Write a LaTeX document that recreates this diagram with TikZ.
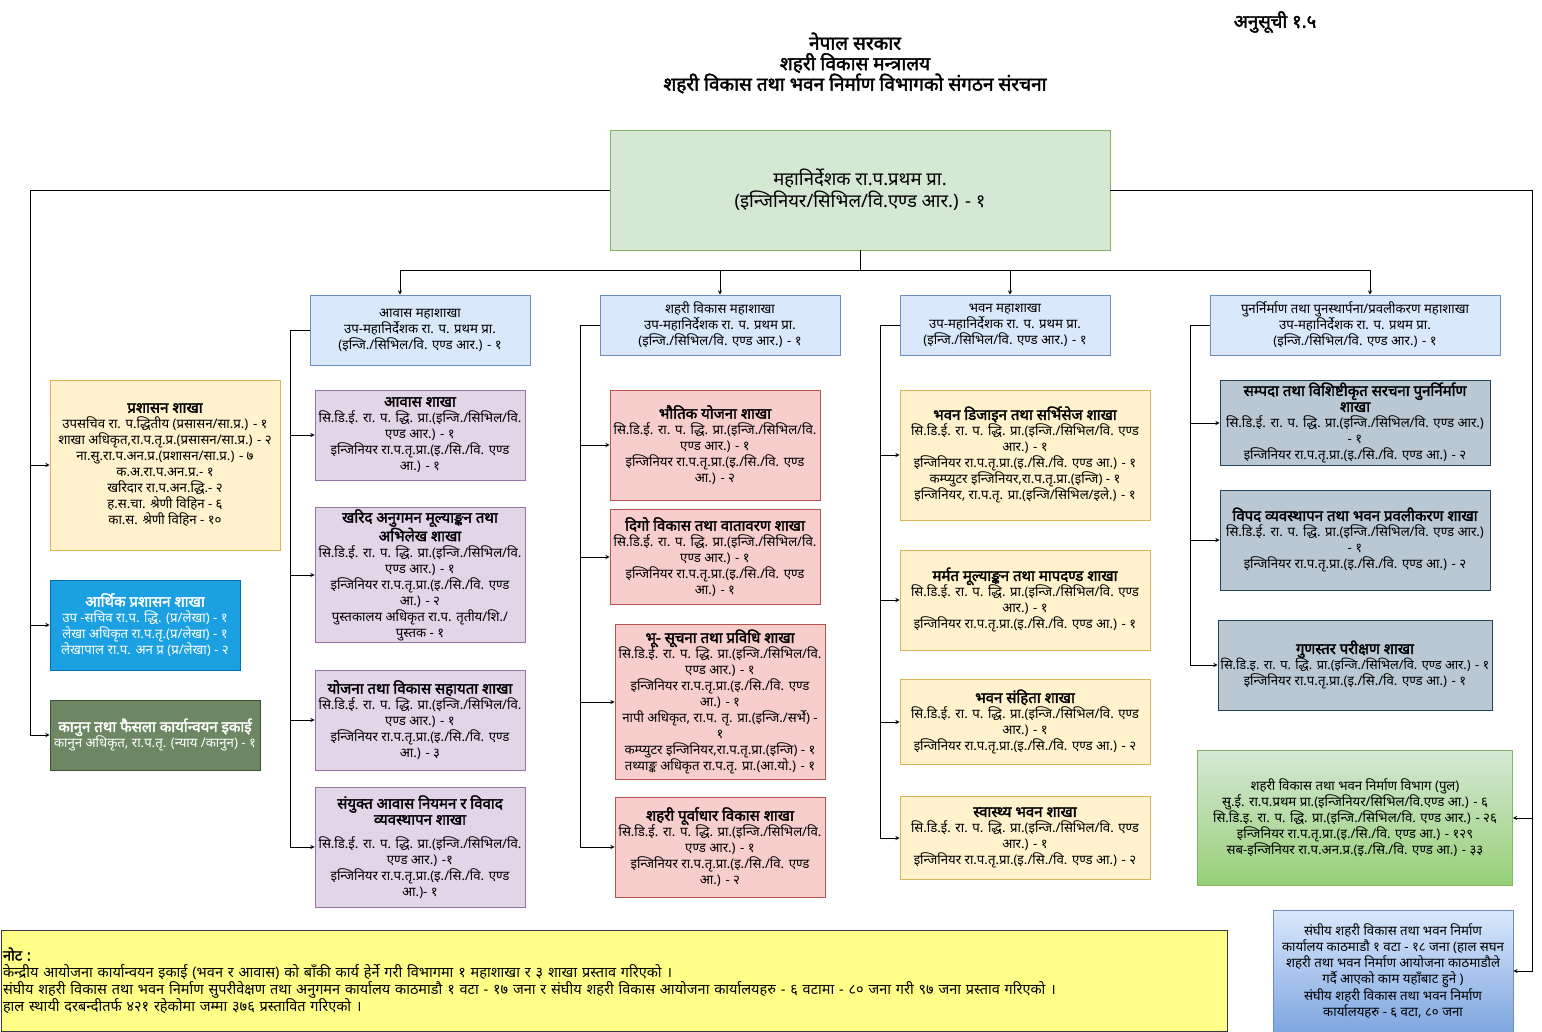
\documentclass[tikz,border=0pt]{standalone}
\usepackage{fontspec}
\setmainfont{Noto Sans}[Script=Devanagari, AutoFakeBold=2.2]

\definecolor{dgfill}{HTML}{D5E8D4}
\definecolor{dgline}{HTML}{82B366}
\definecolor{msfill}{HTML}{DAE8FC}
\definecolor{msline}{HTML}{6C8EBF}
\definecolor{purfill}{HTML}{E1D5E7}
\definecolor{purline}{HTML}{9673A6}
\definecolor{redfill}{HTML}{F8CECC}
\definecolor{redline}{HTML}{B85450}
\definecolor{yelfill}{HTML}{FFF2CC}
\definecolor{yelline}{HTML}{D6B656}
\definecolor{grayfill}{HTML}{BAC8D3}
\definecolor{grayline}{HTML}{23445D}
\definecolor{cyanfill}{HTML}{1BA1E2}
\definecolor{cyanline}{HTML}{006EAF}
\definecolor{olivefill}{HTML}{6D8764}
\definecolor{oliveline}{HTML}{3A5431}
\definecolor{poolbot}{HTML}{97D077}
\definecolor{fedbot}{HTML}{7EA6E0}
\definecolor{notefill}{HTML}{FFFF88}
\definecolor{noteline}{HTML}{36393D}

\newcommand\boxfont{\fontsize{13.2}{16}\selectfont}
\newcommand\head[1]{{\fontsize{15}{16}\selectfont\bfseries #1}}
\newcommand\sdi{सि.डि.ई. रा. प. द्धि. प्रा.(इन्जि./सिभिल/वि.}
\newcommand\engr{इन्जिनियर रा.प.तृ.प्रा.(इ./सि./वि. एण्ड}

\begin{document}
\begin{tikzpicture}[x=1pt, y=-1pt, >=stealth, line width=0.9pt,
  box/.style={draw, line width=0.8pt, align=center, inner sep=2pt, font=\boxfont},
  mahashakha/.style={box, draw=msline, fill=msfill},
  awasbox/.style={box, draw=purline, fill=purfill},
  shaharibox/.style={box, draw=redline, fill=redfill},
  bhawanbox/.style={box, draw=yelline, fill=yelfill},
  punabox/.style={box, draw=grayline, fill=grayfill}]
  \useasboundingbox (0,0) rectangle (1542,1031);

  % Title
  \node[font=\fontsize{18.5}{20}\selectfont\bfseries] (annex) at (1275,22) {अनुसूची १.५};
  \node[font=\fontsize{19}{20.5}\selectfont\bfseries, align=center] (title) at (855,63)
    {नेपाल सरकार\\शहरी  विकास मन्त्रालय\\शहरी विकास तथा भवन निर्माण विभागको संगठन संरचना};

  % Director general
  \node[box, draw=dgline, fill=dgfill, minimum width=500, minimum height=120,
    font=\fontsize{18.5}{22}\selectfont] (dg) at (860,190)
    {महानिर्देशक रा.प.प्रथम प्रा.\\(इन्जिनियर/सिभिल/वि.एण्ड आर.) - १};

  % Divisions
  \node[mahashakha, minimum width=220, minimum height=70] (awasms) at (420,330)
    {आवास महाशाखा\\उप-महानिर्देशक रा. प. प्रथम प्रा.\\(इन्जि./सिभिल/वि. एण्ड आर.) - १};
  \node[mahashakha, minimum width=240, minimum height=60] (shaharims) at (720,325)
    {शहरी विकास महाशाखा\\उप-महानिर्देशक रा. प. प्रथम प्रा.\\(इन्जि./सिभिल/वि. एण्ड आर.) - १};
  \node[mahashakha, minimum width=210, minimum height=60] (bhawanms) at (1005,325)
    {भवन महाशाखा\\उप-महानिर्देशक रा. प. प्रथम प्रा.\\(इन्जि./सिभिल/वि. एण्ड आर.) - १};
  \node[mahashakha, minimum width=290, minimum height=60] (punams) at (1355,325)
    {पुनर्निर्माण तथा पुनस्थार्पना/प्रवलीकरण महाशाखा\\उप-महानिर्देशक रा. प. प्रथम प्रा.\\(इन्जि./सिभिल/वि. एण्ड आर.) - १};

  % Sections under the director general
  \node[box, draw=yelline, fill=yelfill, minimum width=230, minimum height=170] (prashasan) at (165,465)
    {\head{प्रशासन शाखा}\\उपसचिव रा. प.द्धितीय (प्रसासन/सा.प्र.) - १\\शाखा अधिकृत,रा.प.तृ.प्र.(प्रसासन/सा.प्र.) - २\\ना.सु.रा.प.अन.प्र.(प्रशासन/सा.प्र.) - ७\\क.अ.रा.प.अन.प्र.- १\\खरिदार रा.प.अन.द्धि.- २\\ह.स.चा. श्रेणी विहिन - ६\\का.स. श्रेणी विहिन - १०};
  \node[box, draw=cyanline, fill=cyanfill, text=white, minimum width=190, minimum height=90] (arthik) at (145,625)
    {\head{आर्थिक प्रशासन शाखा}\\उप -सचिव रा.प. द्धि. (प्र/लेखा) -  १\\लेखा अधिकृत रा.प.तृ.(प्र/लेखा)   - १\\लेखापाल रा.प. अन प्र (प्र/लेखा)   - २};
  \node[box, draw=oliveline, fill=olivefill, text=white, minimum width=210, minimum height=70] (kanoon) at (155,735)
    {\head{कानुन तथा फैसला कार्यान्वयन इकाई}\\कानुन अधिकृत, रा.प.तृ. (न्याय /कानुन)  - १};

  % Awas sections
  \node[awasbox, minimum width=210, minimum height=90] (awas1) at (420,435)
    {\head{आवास शाखा}\\\sdi\\एण्ड आर.) - १\\\engr\\आ.) - १};
  \node[awasbox, minimum width=210, minimum height=130] (awas2) at (420,575)
    {\head{खरिद अनुगमन मूल्याङ्कन तथा}\\\head{अभिलेख शाखा}\\\sdi\\एण्ड आर.) - १\\\engr\\आ.) - २\\पुस्तकालय अधिकृत रा.प. तृतीय/शि./\\पुस्तक - १};
  \node[awasbox, minimum width=210, minimum height=100] (awas3) at (420,720)
    {\head{योजना तथा विकास सहायता शाखा}\\\sdi\\एण्ड आर.) - १\\\engr\\आ.) - ३};
  \node[awasbox, minimum width=210, minimum height=120] (awas4) at (420,847)
    {\head{संयुक्त आवास नियमन र विवाद}\\\head{व्यवस्थापन शाखा}\\[8pt]\sdi\\एण्ड आर.) -१\\\engr\\आ.)- १};

  % Shahari bikas sections
  \node[shaharibox, minimum width=210, minimum height=110] (shahari1) at (715,445)
    {\head{भौतिक योजना शाखा}\\\sdi\\एण्ड आर.) - १\\\engr\\आ.) - २};
  \node[shaharibox, minimum width=210, minimum height=95] (shahari2) at (715,557)
    {\head{दिगो विकास तथा वातावरण शाखा}\\\sdi\\एण्ड आर.) - १\\\engr\\आ.) - १};
  \node[shaharibox, minimum width=210, minimum height=155] (shahari3) at (720,702)
    {\head{भू- सूचना तथा प्रविधि शाखा}\\\sdi\\एण्ड आर.) - १\\\engr\\आ.) - १\\नापी अधिकृत, रा.प. तृ. प्रा.(इन्जि./सर्भे) -\\१\\कम्प्युटर इन्जिनियर,रा.प.तृ.प्रा.(इन्जि) - १\\तथ्याङ्क अधिकृत रा.प.तृ. प्रा.(आ.यो.) - १};
  \node[shaharibox, minimum width=210, minimum height=100] (shahari4) at (720,847)
    {\head{शहरी पूर्वाधार विकास शाखा}\\\sdi\\एण्ड आर.) - १\\\engr\\आ.) - २};

  % Bhawan sections
  \node[bhawanbox, minimum width=250, minimum height=130] (bhawan1) at (1025,455)
    {\head{भवन डिजाइन तथा सर्भिसेज  शाखा}\\\sdi{} एण्ड\\आर.) - १\\\engr{} आ.) - १\\कम्प्युटर इन्जिनियर,रा.प.तृ.प्रा.(इन्जि) - १\\इन्जिनियर, रा.प.तृ. प्रा.(इन्जि/सिभिल/इले.) - १};
  \node[bhawanbox, minimum width=250, minimum height=100] (bhawan2) at (1025,600)
    {\head{मर्मत मूल्याङ्कन तथा मापदण्ड शाखा}\\\sdi{} एण्ड\\आर.) - १\\\engr{} आ.) - १};
  \node[bhawanbox, minimum width=250, minimum height=85] (bhawan3) at (1025,722)
    {\head{भवन संहिता शाखा}\\\sdi{} एण्ड\\आर.) - १\\\engr{} आ.) - २};
  \node[bhawanbox, minimum width=250, minimum height=83] (bhawan4) at (1025,838)
    {\head{स्वास्थ्य भवन शाखा}\\\sdi{} एण्ड\\आर.) - १\\\engr{} आ.) - २};

  % Punarnirman sections
  \node[punabox, minimum width=270, minimum height=85] (puna1) at (1355,423)
    {\head{सम्पदा तथा विशिष्टीकृत सरचना पुनर्निर्माण}\\\head{शाखा}\\\sdi{} एण्ड आर.)\\- १\\\engr{} आ.) - २};
  \node[punabox, minimum width=270, minimum height=100] (puna2) at (1355,540)
    {\head{विपद व्यवस्थापन तथा भवन प्रवलीकरण शाखा}\\\sdi{} एण्ड आर.)\\- १\\\engr{} आ.) - २};
  \node[punabox, minimum width=274, minimum height=90, inner xsep=0pt] (puna3) at (1355,665)
    {\head{गुणस्तर परीक्षण शाखा}\\{\fontsize{12.8}{16}\selectfont सि.डि.इ. रा. प. द्धि. प्रा.(इन्जि./सिभिल/वि. एण्ड आर.) - १}\\\engr{} आ.) - १};

  % Pool and federal offices
  \node[box, draw=dgline, top color=dgfill, bottom color=poolbot, minimum width=315, minimum height=135] (pool) at (1355,818)
    {शहरी  विकास तथा भवन निर्माण विभाग (पुल)\\सु.ई.  रा.प.प्रथम प्रा.(इन्जिनियर/सिभिल/वि.एण्ड आ.) - ६\\सि.डि.इ. रा. प. द्धि. प्रा.(इन्जि./सिभिल/वि. एण्ड आर.) - २६\\इन्जिनियर रा.प.तृ.प्रा.(इ./सि./वि. एण्ड आ.) - १२९\\सब-इन्जिनियर रा.प.अन.प्र.(इ./सि./वि. एण्ड आ.) - ३३};
  \node[box, draw=msline, top color=msfill, bottom color=fedbot, minimum width=240, minimum height=122] (federal) at (1393,971)
    {संघीय शहरी  विकास तथा भवन निर्माण\\कार्यालय काठमाडौ १ वटा - १८ जना (हाल सघन\\शहरी तथा भवन निर्माण आयोजना काठमाडौले\\गर्दै आएको काम यहाँबाट हुने )\\संघीय शहरी विकास तथा भवन निर्माण\\कार्यालयहरु - ६ वटा, ८० जना};

  % Note
  \node[box, draw=noteline, fill=notefill, align=left, text width=1222, minimum height=101,
    font=\fontsize{14.5}{17}\selectfont] (note) at (614,980.5)
    {\textbf{नोट :}\\केन्द्रीय आयोजना कार्यान्वयन इकाई (भवन र आवास) को बाँकी कार्य हेर्ने गरी विभागमा १ महाशाखा र ३ शाखा प्रस्ताव गरिएको ।\\संघीय शहरी  विकास तथा भवन निर्माण सुपरीवेक्षण तथा अनुगमन कार्यालय काठमाडौ १ वटा - १७ जना र संघीय शहरी  विकास आयोजना कार्यालयहरु - ६ वटामा - ८० जना गरी ९७ जना प्रस्ताव गरिएको ।\\हाल स्थायी दरबन्दीतर्फ ४२१ रहेकोमा जम्मा ३७६ प्रस्तावित गरिएको ।};

  % Connectors from the director general
  \coordinate (topbus) at (860,270);
  \coordinate (leftbus) at (30,190);
  \coordinate (rightbus) at (1532,190);
  \draw (dg.south) -- (topbus);
  \draw[->] (topbus) -| ([xshift=-20]awasms.north);
  \draw[->] (topbus) -| (shaharims.north);
  \draw[->] (topbus) -| ([xshift=5]bhawanms.north);
  \draw[->] (topbus) -| ([xshift=15]punams.north);
  \draw (dg.west) -- (leftbus);
  \draw[->] (leftbus) |- (prashasan.west);
  \draw[->] (leftbus) |- (arthik.west);
  \draw[->] (leftbus) |- (kanoon.west);
  \draw (dg.east) -- (rightbus);
  \draw[->] (rightbus) |- (pool.east);
  \draw[->] (rightbus) |- (federal.east);

  % Connectors to sections
  \coordinate (awasbus) at (290,330);
  \coordinate (shaharibus) at (580,325);
  \coordinate (bhawanbus) at (880,325);
  \coordinate (punabus) at (1190,325);
  \draw (awasms.west) -- (awasbus);
  \draw (shaharims.west) -- (shaharibus);
  \draw (bhawanms.west) -- (bhawanbus);
  \draw (punams.west) -- (punabus);
  \foreach \i in {1,...,4} {
    \draw[->] (awasbus) |- (awas\i.west);
    \draw[->] (shaharibus) |- (shahari\i.west);
    \draw[->] (bhawanbus) |- (bhawan\i.west);
  }
  \foreach \i in {1,2,3}
    \draw[->] (punabus) |- (puna\i.west);
\end{tikzpicture}
\end{document}
